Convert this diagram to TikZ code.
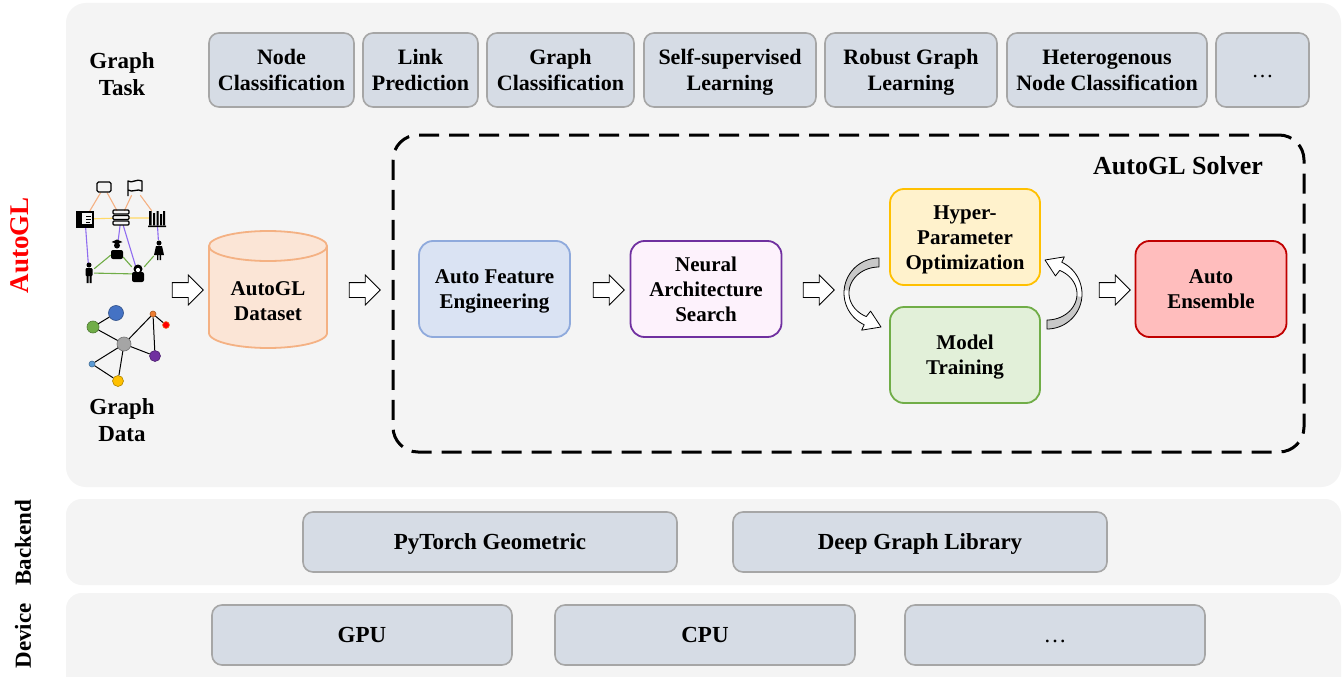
\documentclass[tikz,border=0pt]{standalone}
\usepackage{fontspec}
\setmainfont{Liberation Serif}
\usetikzlibrary{shapes.arrows}
\newcommand{\ofirst}{\rule{0pt}{0.891em}}
\newcommand{\olast}{\rule[-0.216em]{0pt}{0.216em}}
\definecolor{panel}{HTML}{F4F4F4}
\definecolor{taskfill}{HTML}{D6DCE5}
\definecolor{taskline}{HTML}{A6A6A6}
\definecolor{afefill}{HTML}{DAE3F3}
\definecolor{afeline}{HTML}{8FAADC}
\definecolor{nasfill}{HTML}{FDF2FC}
\definecolor{nasline}{HTML}{7030A0}
\definecolor{hpofill}{HTML}{FFF2CC}
\definecolor{hpoline}{HTML}{FFC000}
\definecolor{mtfill}{HTML}{E2F0D9}
\definecolor{mtline}{HTML}{70AD47}
\definecolor{aefill}{HTML}{FFBDBD}
\definecolor{aeline}{HTML}{C00000}
\definecolor{dsfill}{HTML}{FBE5D6}
\definecolor{dsline}{HTML}{F4B183}
\definecolor{eorange}{HTML}{F4B183}
\definecolor{eyellow}{HTML}{FFD966}
\definecolor{epurple}{HTML}{8F6CF0}
\definecolor{egreen}{HTML}{70AD47}
\definecolor{cyclegray}{HTML}{C8C8C8}
\definecolor{autoglred}{HTML}{FF0000}
\definecolor{gblue}{HTML}{4472C4}
\definecolor{ggreen}{HTML}{70AD47}
\definecolor{ggray}{HTML}{A5A5A5}
\definecolor{gorange}{HTML}{ED7D31}
\definecolor{gred}{HTML}{FF0000}
\definecolor{gpurple}{HTML}{7030A0}
\definecolor{glblue}{HTML}{5B9BD5}
\definecolor{gyellow}{HTML}{FFC000}
\begin{document}
\begin{tikzpicture}[x=1pt,y=-1pt,
  officetext/.style={execute at begin node={\rule{0pt}{0.891em}}, execute at end node={\rule[-0.216em]{0pt}{0.216em}}},
  lbl/.style={font=\bfseries\fontsize{23}{27}\selectfont, align=center, inner sep=0pt},
  task/.style={draw=taskline, fill=taskfill, line width=1.6pt, rounded corners=10pt, inner sep=0pt, align=center, minimum height=74pt, font=\bfseries\fontsize{22}{26}\selectfont},
  stage/.style={line width=1.8pt, rounded corners=14pt, inner sep=0pt, align=center, minimum width=151pt, minimum height=96pt, font=\bfseries\fontsize{21}{25}\selectfont},
  lib/.style={officetext, draw=taskline, fill=taskfill, line width=1.6pt, rounded corners=10pt, inner sep=0pt, minimum height=60pt, font=\bfseries\fontsize{23}{28}\selectfont},
  blockarrow/.style={single arrow, draw=black, fill=white, line width=0.8pt, minimum height=31pt, inner xsep=0pt, inner ysep=7pt, single arrow head extend=7.5pt, single arrow tip angle=90},
  icon/.style={inner sep=0pt, minimum width=16pt, minimum height=14pt},
  kedge/.style={line width=1.1pt},
  gnode/.style={circle, inner sep=0pt, line width=0.6pt},
  gedge/.style={line width=1pt, black},
  cyclearrow/.pic={
    \filldraw[fill=white, draw=none] plot[domain=270:115,samples=40] ({35*cos(\x)},{35*sin(\x)}) -- ({41*cos(115)},{41*sin(115)}) -- (2,34) -- ({20*cos(115)},{20*sin(115)}) -- ({30*cos(115)},{26*sin(115)}) -- plot[domain=115:270,samples=40] ({30*cos(\x)},{26*sin(\x)}) -- cycle;
    \fill[cyclegray] plot[domain=270:185,samples=30] ({35*cos(\x)},{35*sin(\x)}) -- plot[domain=185:270,samples=30] ({30*cos(\x)},{26*sin(\x)}) -- cycle;
    \draw[line width=0.8pt, line join=round] plot[domain=270:115,samples=40] ({35*cos(\x)},{35*sin(\x)}) -- ({41*cos(115)},{41*sin(115)}) -- (2,34) -- ({20*cos(115)},{20*sin(115)}) -- ({30*cos(115)},{26*sin(115)}) -- plot[domain=115:270,samples=40] ({30*cos(\x)},{26*sin(\x)}) -- cycle;
  },
]
\clip (0,0) rectangle (1344,677);
\fill[white] (0,0) rectangle (1344,677);
% panels
\fill[panel, rounded corners=20pt] (66,3) rectangle (1341,487);
\fill[panel, rounded corners=16pt] (66,499) rectangle (1341,585);
\fill[panel, rounded corners=16pt] (66,593) rectangle (1341,700);
% side labels
\node[lbl, rotate=90, text=autoglred, font=\bfseries\fontsize{27}{30}\selectfont] (autogl) at (20,245) {AutoGL};
\node[lbl, rotate=90] (backend) at (23,543) {Backend};
\node[lbl, rotate=90] (device) at (23,636) {Device};
\node[lbl] (gtask) at (122,74) {Graph\\Task};
\node[lbl] (gdata) at (122,420) {Graph\\Data};
% graph tasks
\node[task, minimum width=145pt] (t1) at (281.5,70) {\ofirst Node\\Classification\olast};
\node[task, minimum width=115pt] (t2) at (420.5,70) {\ofirst Link\\Prediction\olast};
\node[task, minimum width=147pt] (t3) at (560.5,70) {\ofirst Graph\\Classification\olast};
\node[task, minimum width=172pt] (t4) at (730,70) {\ofirst Self-supervised\\Learning\olast};
\node[task, minimum width=172pt] (t5) at (911,70) {\ofirst Robust Graph\\Learning\olast};
\node[task, minimum width=200pt] (t6) at (1107,70) {\ofirst Heterogenous\\Node Classification\olast};
\node[task, officetext, minimum width=93pt, font=\fontsize{22}{26}\selectfont] (t7) at (1262.5,70) {…};
% solver frame
\node[draw=black, line width=3pt, dash pattern=on 20pt off 10pt, rounded corners=25pt, minimum width=911pt, minimum height=317pt, inner sep=0pt] (solver) at (848.5,293.5) {};
\node[font=\bfseries\fontsize{26}{30}\selectfont, inner sep=0pt] (solvertitle) at (1178,166) {AutoGL Solver};
% knowledge graph
\node[icon, minimum width=15pt, minimum height=11pt] (kf1) at (104,187) {};
\node[icon, minimum width=15pt, minimum height=14pt] (kf2) at (135,188) {};
\node[icon] (kbk) at (85,219) {};
\node[icon] (kst) at (121,218) {};
\node[icon] (ksh) at (157,218) {};
\node[icon, minimum width=12pt, minimum height=18pt] (kp1) at (117,250) {};
\node[icon, minimum width=10pt, minimum height=20pt] (kp2) at (159,250) {};
\node[icon, minimum width=10pt, minimum height=20pt] (kp3) at (89,273) {};
\node[icon, minimum width=12pt, minimum height=16pt] (kp4) at (138,274) {};
\draw[kedge, eorange] (kf1) -- (kbk) (kf1) -- (kst) (kf2) -- (kst) (kf2) -- (ksh);
\draw[kedge, eyellow] (kbk) -- (kst) (kst) -- (ksh);
\draw[kedge, epurple] (kbk) -- (kp3) (kst) -- (kp1) (kst) -- (kp4) (ksh) -- (kp2);
\draw[kedge, egreen] (kp1) -- (kp3) (kp1) -- (kp4) (kp3) -- (kp4) (kp4) -- (kp2);
% icons
\draw[line width=1.3pt, rounded corners=1.5pt] (97,182) rectangle (111,192);
\draw[line width=1.3pt, line join=round] (128,196) -- (128,181) .. controls (132,184) and (137,178) .. (142,181) -- (142,191) .. controls (137,188) and (133,193) .. (128,190);
\draw[line width=1.4pt] (77,212) rectangle (93,225);
\fill (77,212) rectangle (82,225);
\draw[line width=1pt] (86,216) -- (91,216) (86,219) -- (91,219) (86,222) -- (90,222);
\fill (76,226) rectangle (94,227.5);
\foreach \yy in {210,215.5,221} \draw[line width=1.4pt, rounded corners=1pt] (113,\yy) rectangle (129,\yy+4);
\fill (149,211) rectangle (151.5,225) (153,213) rectangle (155,225) (156.5,211) rectangle (158.5,225) (160,214) rectangle (162,225) (163,211) rectangle (165,225) (148,225.5) rectangle (166,227);
\fill (117,245.5) circle (3);
\fill (111.5,242) -- (117,239.5) -- (122.5,242) -- (117,244) -- cycle;
\fill[rounded corners=2pt] (111,250) rectangle (123,259);
\fill (159,243) circle (2.5);
\fill (156,246) -- (162,246) -- (164,255) -- (154,255) -- cycle;
\fill (157,255) rectangle (158.3,260) (159.7,255) rectangle (161,260);
\fill (89,265) circle (2.5);
\fill[rounded corners=1pt] (85.5,268) rectangle (92.5,276);
\fill (86.5,276) rectangle (88.5,283) (89.5,276) rectangle (91.5,283);
\fill (138,269) circle (4.5);
\fill[rounded corners=2pt] (132,272) rectangle (144,282);
\fill[white] (138,270) circle (2.1);
% simple graph
\node[gnode, fill=gblue, draw=gblue!70!black, minimum size=15pt] (g1) at (116,313) {};
\node[gnode, fill=ggreen, draw=ggreen!70!black, minimum size=12pt] (g2) at (93,327) {};
\node[gnode, fill=ggray, draw=ggray!70!black, minimum size=14pt] (g3) at (124,344) {};
\node[gnode, fill=gorange, draw=gorange!70!black, minimum size=6pt] (g4) at (153,314) {};
\node[gnode, fill=gred, draw=gorange, minimum size=7pt] (g5) at (166,325) {};
\node[gnode, fill=gpurple, draw=gpurple!70!black, minimum size=11pt] (g6) at (155,356) {};
\node[gnode, fill=glblue, draw=glblue!70!black, minimum size=6pt] (g7) at (92,364) {};
\node[gnode, fill=gyellow, draw=gyellow!70!black, minimum size=11pt] (g8) at (118,381) {};
\draw[gedge] (g1) -- (g2) (g2) -- (g3) (g3) -- (g4) (g4) -- (g5) (g4) -- (g6) (g3) -- (g6) (g3) -- (g7) (g3) -- (g8) (g7) -- (g8);
% dataset cylinder
\fill[dsfill] (209,246) -- plot[domain=180:0,samples=40] ({268+59*cos(\x)},{333+15*sin(\x)}) -- (327,246) -- cycle;
\draw[dsline, line width=1.8pt] (209,246) -- plot[domain=180:0,samples=40] ({268+59*cos(\x)},{333+15*sin(\x)}) -- (327,246);
\filldraw[fill=dsfill, draw=dsline, line width=1.8pt] (268,246) ellipse [x radius=59, y radius=15];
\node[font=\bfseries\fontsize{21}{25}\selectfont, align=center, inner sep=0pt] (dstext) at (268,301) {AutoGL\\Dataset};
% stages
\node[stage, draw=afeline, fill=afefill] (afe) at (494.5,289) {\ofirst Auto Feature\\Engineering\olast};
\node[stage, draw=nasline, fill=nasfill] (nas) at (706,289) {\ofirst Neural\\Architecture\\Search\olast};
\node[stage, draw=hpoline, fill=hpofill, minimum width=150pt] (hpo) at (965,237) {\ofirst Hyper-\\Parameter\\Optimization\olast};
\node[stage, draw=mtline, fill=mtfill, minimum width=150pt] (mt) at (965,355) {\ofirst Model\\Training\olast};
\node[stage, draw=aeline, fill=aefill] (ae) at (1211,289) {\ofirst Auto\\Ensemble\olast};
% block arrows
\node[blockarrow] (a1) at (184,290) {};
\node[blockarrow] (a2) at (361,290) {};
\node[blockarrow] (a3) at (605,290) {};
\node[blockarrow] (a4) at (815,290) {};
\node[blockarrow] (a5) at (1111,290) {};
% cycle arrows
\pic at (879,293) {cyclearrow};
\pic[rotate=180] at (1047,294) {cyclearrow};
% backend and device
\node[lib, minimum width=374pt] (pyg) at (490,542) {PyTorch Geometric};
\node[lib, minimum width=374pt] (dgl) at (920,542) {Deep Graph Library};
\node[lib, minimum width=300pt] (gpu) at (362,635) {GPU};
\node[lib, minimum width=300pt] (cpu) at (705,635) {CPU};
\node[lib, minimum width=300pt, font=\fontsize{23}{28}\selectfont] (dev3) at (1055,635) {…};
\end{tikzpicture}
\end{document}
